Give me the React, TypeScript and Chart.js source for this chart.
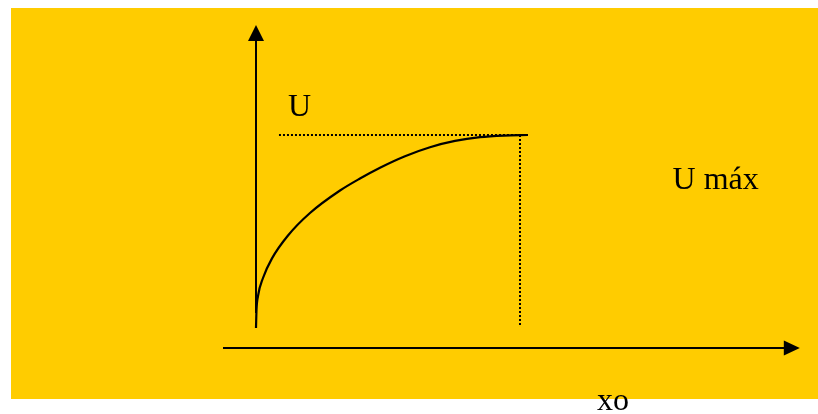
import React, { useEffect, useRef } from "react";
import { Chart, registerables } from "chart.js";

Chart.register(...registerables);

// Curve U(x): x in % of xo, y in % of U max
const curveX = [0, 0.19, 0.76, 2.65, 6.06, 12.12, 20.45, 31.82, 39.39, 46.97, 56.44, 65.91, 75.38, 84.85, 93.94, 103.03];
const curveY = [9.39, 17.84, 24.41, 32.86, 42.07, 52.82, 63.38, 73.94, 79.58, 84.65, 90.05, 94.27, 97.21, 98.97, 99.72, 100];

// Dotted guides: U max level and xo position
const uMaxLineX = [8.7, 103];
const uMaxLevel = 100;
const xoPosition = 100;
const xoLineY = [10.8, 100];

// Axes extents (data units)
const xAxisRange = [-12.5, 206];
const yAxisRange = [16.4, 151.6];

// Text labels
const labelTexts = ["U", "U máx", "xo"];
const labelPos = [
  { x: 12.1, y: 108.9 },
  { x: 157.8, y: 74.6 },
  { x: 129.2, y: -29.1 },
];

const FONT = "32px 'Liberation Serif', 'Times New Roman', serif";

export default function App() {
  const ref = useRef<HTMLCanvasElement | null>(null);

  useEffect(() => {
    if (!ref.current) return;
    const decor = {
      id: "decor",
      beforeDraw(chart: any) {
        const ctx = chart.ctx;
        ctx.save();
        ctx.fillStyle = "#FFCC00";
        ctx.fillRect(11, 8, 807, 391);
        ctx.restore();
      },
      afterDatasetsDraw(chart: any) {
        const ctx = chart.ctx;
        const xs = chart.scales.x;
        const ys = chart.scales.y;
        const x0 = xs.getPixelForValue(0);
        const y0 = ys.getPixelForValue(0);
        ctx.save();
        ctx.strokeStyle = "#000";
        ctx.fillStyle = "#000";
        ctx.lineWidth = 2;
        // vertical axis
        const yTop = ys.getPixelForValue(yAxisRange[1]);
        const yBot = ys.getPixelForValue(yAxisRange[0]);
        ctx.beginPath();
        ctx.moveTo(x0, yBot);
        ctx.lineTo(x0, yTop + 14);
        ctx.stroke();
        ctx.beginPath();
        ctx.moveTo(x0, yTop);
        ctx.lineTo(x0 - 8, yTop + 16);
        ctx.lineTo(x0 + 8, yTop + 16);
        ctx.closePath();
        ctx.fill();
        // horizontal axis
        const xL = xs.getPixelForValue(xAxisRange[0]);
        const xR = xs.getPixelForValue(xAxisRange[1]);
        ctx.beginPath();
        ctx.moveTo(xL, y0);
        ctx.lineTo(xR - 14, y0);
        ctx.stroke();
        ctx.beginPath();
        ctx.moveTo(xR, y0);
        ctx.lineTo(xR - 16, y0 - 7.5);
        ctx.lineTo(xR - 16, y0 + 7.5);
        ctx.closePath();
        ctx.fill();
        // labels
        ctx.font = FONT;
        ctx.textAlign = "left";
        ctx.textBaseline = "alphabetic";
        labelTexts.forEach((t, i) => {
          ctx.fillText(t, xs.getPixelForValue(labelPos[i].x), ys.getPixelForValue(labelPos[i].y));
        });
        ctx.restore();
      },
    };

    const chart = new Chart(ref.current, {
      type: "scatter",
      data: {
        datasets: [
          {
            data: curveX.map((x, i) => ({ x, y: curveY[i] })),
            showLine: true,
            borderColor: "#000",
            borderWidth: 2.2,
            pointRadius: 0,
            cubicInterpolationMode: "monotone",
            clip: false as any,
          },
          {
            data: uMaxLineX.map((x) => ({ x, y: uMaxLevel })),
            showLine: true,
            borderColor: "#000",
            borderWidth: 2,
            borderDash: [2, 2],
            pointRadius: 0,
            clip: false as any,
          },
          {
            data: xoLineY.map((y) => ({ x: xoPosition, y })),
            showLine: true,
            borderColor: "#000",
            borderWidth: 2,
            borderDash: [2, 2],
            pointRadius: 0,
            clip: false as any,
          },
        ],
      },
      options: {
        animation: false,
        responsive: false,
        layout: { padding: { left: 256, right: 298, top: 135, bottom: 66 } },
        plugins: { legend: { display: false }, tooltip: { enabled: false } },
        scales: {
          x: { type: "linear", display: false, min: 0, max: 100 },
          y: { type: "linear", display: false, min: 0, max: 100 },
        },
      },
      plugins: [decor],
    });
    return () => chart.destroy();
  }, []);

  return (
    <div style={{ position: "absolute", left: 0, top: 0, width: 818, height: 414 }}>
      <canvas ref={ref} width={818} height={414} style={{ display: "block" }} />
    </div>
  );
}
